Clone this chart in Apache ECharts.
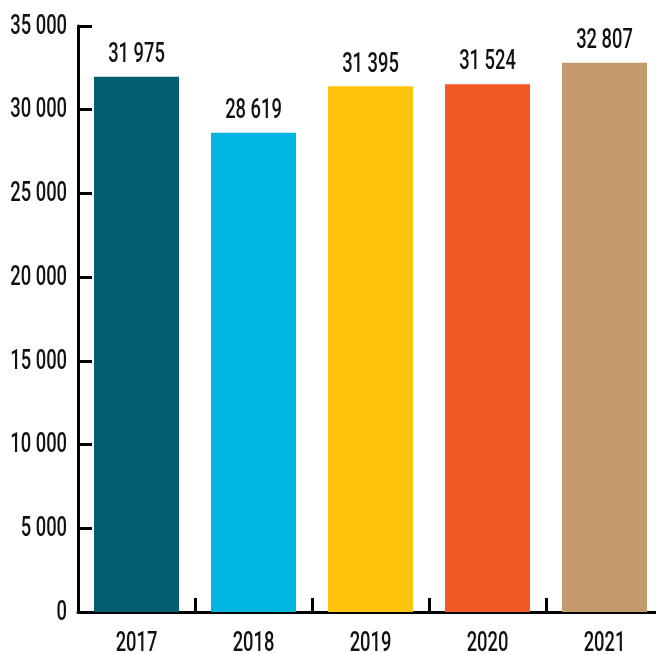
<!DOCTYPE html>
<html>
<head>
<meta charset="utf-8">
<script src="https://cdn.jsdelivr.net/npm/echarts@6/dist/echarts.min.js"></script>
<style>
  html, body { margin: 0; padding: 0; background: #fff; }
  #chart { width: 656px; height: 655px; }
</style>
</head>
<body>
<div id="chart"></div>
<script>
// Yearly totals
const years = ['2017', '2018', '2019', '2020', '2021'];
const totals = [31975, 28619, 31395, 31524, 32807];
const barColors = ['#045E72', '#00B5DF', '#FEC50C', '#F15A24', '#C49A6C'];
const yTicks = [0, 5000, 10000, 15000, 20000, 25000, 30000, 35000];

// Text is set in Roboto and squeezed horizontally for a condensed look
const FONT = 'Roboto, "Liberation Sans", sans-serif';
const FONT_SIZE = 27;
const SQUEEZE = 0.68;

// thousands separated by a space: 31975 -> "31 975"
function fmt(v) {
  return String(v).replace(/\B(?=(\d{3})+(?!\d))/g, ' ');
}

const chart = echarts.init(document.getElementById('chart'), null, { renderer: 'canvas' });
chart.setOption({
  animation: false,
  grid: { left: 78, right: -7, top: 26, bottom: 43, containLabel: false, outerBoundsMode: 'none' },
  xAxis: {
    type: 'category',
    data: years,
    axisLine: { lineStyle: { color: '#000', width: 3 } },
    axisTick: { show: true, inside: true, length: 14, lineStyle: { color: '#000', width: 3 } },
    axisLabel: { show: false }
  },
  yAxis: {
    type: 'value',
    min: yTicks[0],
    max: yTicks[yTicks.length - 1],
    interval: 5000,
    splitLine: { show: false },
    axisLine: { show: true, lineStyle: { color: '#000', width: 3 } },
    axisTick: { show: true, inside: true, length: 14, lineStyle: { color: '#000', width: 3 } },
    axisLabel: { show: false }
  },
  series: [{
    type: 'bar',
    barWidth: 85,
    data: totals.map((v, i) => ({ value: v, itemStyle: { color: barColors[i] } })),
    label: { show: false }
  }]
});

// condensed text element anchored at a pixel point
function label(text, px, py, align, vAlign) {
  return {
    type: 'text',
    x: px,
    y: py,
    scaleX: SQUEEZE,
    silent: true,
    style: {
      text: text,
      x: 0,
      y: 0,
      fill: '#111',
      fontFamily: FONT,
      fontSize: FONT_SIZE,
      fontWeight: 500,
      align: align,
      textAlign: align,
      verticalAlign: vAlign,
      textVerticalAlign: vAlign
    }
  };
}

const grid0 = { gridIndex: 0 };
const zeroY = chart.convertToPixel(grid0, [0, 0])[1];
const gridLeft = chart.getModel().getComponent('grid', 0).coordinateSystem.getRect().x;

const texts = [];
// value axis labels
yTicks.forEach(v => {
  const py = chart.convertToPixel({ yAxisIndex: 0 }, v);
  texts.push(label(fmt(v), gridLeft - 11, py + 1, 'right', 'middle'));
});
// category labels and value labels above each bar
years.forEach((y, i) => {
  const p = chart.convertToPixel(grid0, [i, totals[i]]);
  texts.push(label(y, p[0], zeroY + 32, 'center', 'middle'));
  texts.push(label(fmt(totals[i]), p[0], p[1] - 8, 'center', 'bottom'));
});

chart.setOption({ graphic: texts });
</script>
</body>
</html>
